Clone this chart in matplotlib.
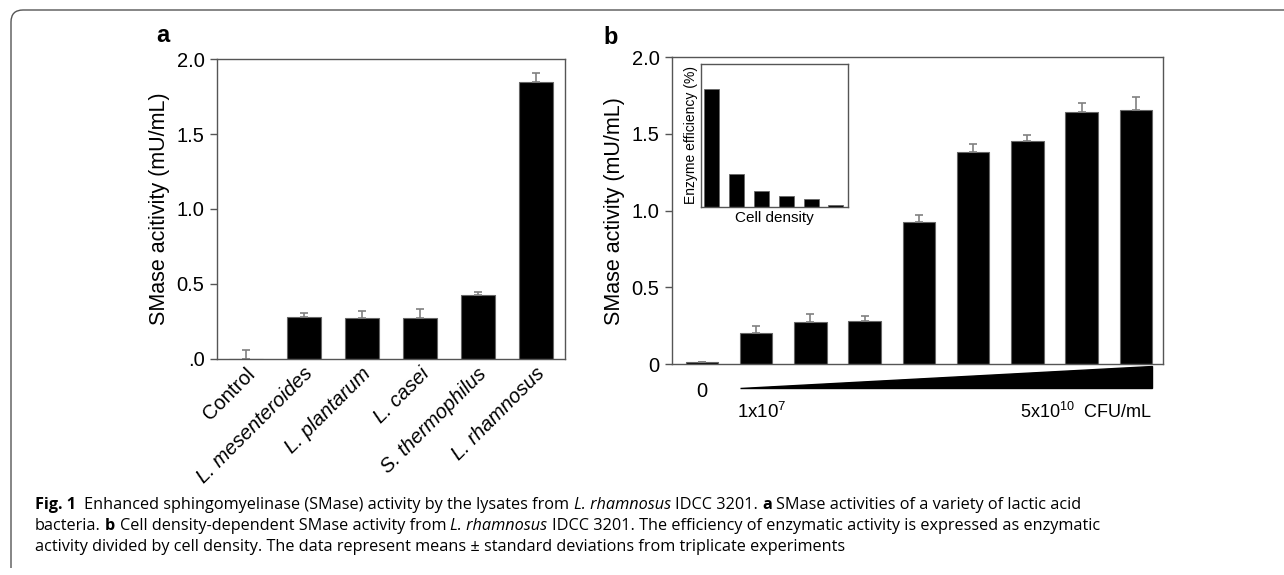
import matplotlib
matplotlib.use("Agg")
import matplotlib.pyplot as plt
import matplotlib.transforms as mtransforms
from matplotlib.path import Path
from matplotlib.patches import PathPatch

plt.rcParams['font.family'] = ['Liberation Sans', 'DejaVu Sans']
plt.rcParams['mathtext.default'] = 'regular'

# panel a data
strains = ['Control', 'L. mesenteroides', 'L. plantarum', 'L. casei',
           'S. thermophilus', 'L. rhamnosus']
strain_italic = [False, True, True, True, True, True]
smase_a = [0.0, 0.28, 0.27, 0.274, 0.426, 1.848]
err_a = [0.058, 0.027, 0.048, 0.06, 0.022, 0.062]

# panel b data (cell density series)
smase_b = [0.011, 0.20, 0.276, 0.28, 0.926, 1.38, 1.453, 1.642, 1.655]
err_b = [0.002, 0.05, 0.05, 0.033, 0.044, 0.053, 0.043, 0.063, 0.085]

# inset: enzyme efficiency vs cell density (arbitrary %, read from pixels)
efficiency = [82.7, 22.8, 11.2, 7.7, 5.6, 1.0]

yticks = [0, 0.5, 1.0, 1.5, 2.0]
yticklabels_a = ['.0', '0.5', '1.0', '1.5', '2.0']
yticklabels_b = ['0', '0.5', '1.0', '1.5', '2.0']

W, H = 1284, 575
fig = plt.figure(figsize=(W / 100, H / 100), dpi=100)

spine_col = '#555555'
err_col = '#808080'


def style_axes(ax):
    for s in ax.spines.values():
        s.set_color(spine_col)
        s.set_linewidth(1.0)


# ---- panel a ----
axa = fig.add_axes([217 / W, 1 - 358.7 / H, 348 / W, 299.4 / H])
xa = list(range(len(strains)))
axa.bar(xa, smase_a, width=0.6, color='black', edgecolor='#666666', linewidth=0.8,
        yerr=[[0] * len(err_a), err_a], ecolor=err_col, capsize=3,
        error_kw={'elinewidth': 1.2, 'capthick': 1.2})
axa.set_xlim(-0.5, 5.5)
axa.set_ylim(0, 2.0)
axa.set_yticks(yticks)
axa.set_yticklabels(yticklabels_a)
axa.set_xticks(xa)
axa.set_xticklabels([])
axa.tick_params(axis='x', length=0)
axa.tick_params(axis='y', direction='out', length=5, width=1, color=spine_col,
                labelsize=14.5, pad=4)
axa.set_ylabel('SMase acitivity (mU/mL)', fontsize=15.5, labelpad=5)
style_axes(axa)
lab_tr = mtransforms.offset_copy(axa.get_xaxis_transform(), fig=fig, x=6, y=-12, units='dots')
for i, name in enumerate(strains):
    axa.text(i, 0, name, transform=lab_tr, rotation=45, rotation_mode='anchor',
             ha='right', va='center', fontsize=14.5,
             style='italic' if strain_italic[i] else 'normal')
fig.text(163 / W, 1 - 35 / H, 'a', fontsize=17, weight='bold', ha='center', va='center')

# ---- panel b ----
axb = fig.add_axes([672 / W, 1 - 364 / H, 491 / W, 306.7 / H])
xb = list(range(len(smase_b)))
axb.bar(xb, smase_b, width=0.6, color='black', edgecolor='#666666', linewidth=0.8,
        yerr=[[0] * len(err_b), err_b], ecolor=err_col, capsize=3,
        error_kw={'elinewidth': 1.2, 'capthick': 1.2})
axb.set_xlim(-0.55, 8.5)
axb.set_ylim(0, 2.0)
axb.set_yticks(yticks)
axb.set_yticklabels(yticklabels_b)
axb.set_xticks([])
axb.tick_params(axis='y', direction='out', length=5, width=1, color=spine_col,
                labelsize=14.5, pad=4)
axb.set_ylabel('SMase activity (mU/mL)', fontsize=15.5, labelpad=5)
style_axes(axb)

# cell density wedge below the axis
btr = mtransforms.blended_transform_factory(axb.transData, axb.transAxes)
axb.fill([0.7, 8.3, 8.3], [-0.078, -0.078, -0.0065], color='black',
         transform=btr, clip_on=False)
axb.text(0, -0.09, '0', transform=btr, ha='center', va='center', fontsize=14.5)
axb.text(0.64, -0.155, r'1x10$^7$', transform=btr, ha='left', va='center', fontsize=13.5)
axb.text(8.3, -0.155, r'5x10$^{10}$  CFU/mL', transform=btr, ha='right', va='center',
         fontsize=13)
fig.text(611 / W, 1 - 37 / H, 'b', fontsize=17, weight='bold', ha='center', va='center')

# inset
axi = fig.add_axes([700.7 / W, 1 - 206.7 / H, 147.6 / W, 142.4 / H])
axi.bar(range(len(efficiency)), efficiency, width=0.6, color='black',
        edgecolor='#666666', linewidth=0.6)
axi.set_xlim(-0.45, 5.5)
axi.set_ylim(0, 100)
axi.set_xticks([])
axi.set_yticks([])
axi.set_ylabel('Enzyme efficiency (%)', fontsize=10, labelpad=2)
axi.set_xlabel('Cell density', fontsize=11, labelpad=3)
style_axes(axi)

# ---- frame ----
frame = Path([(11, 568), (11, 22), (11, 10), (23, 10), (W + 5, 10)],
             [Path.MOVETO, Path.LINETO, Path.CURVE3, Path.CURVE3, Path.LINETO])
frame = Path([(x / W, 1 - y / H) for x, y in frame.vertices], frame.codes)
fig.patches.append(PathPatch(frame, transform=fig.transFigure, fill=False,
                             edgecolor='#555555', linewidth=1.0))

# ---- caption ----
cap_family = ['Open Sans', 'DejaVu Sans']
renderer = fig.canvas.get_renderer()

caption = [
    [('Fig. 1', 'b'), ('  Enhanced sphingomyelinase (SMase) activity by the lysates from ', 'n'),
     ('L. rhamnosus', 'i'), (' IDCC 3201. ', 'n'), ('a', 'b'),
     (' SMase activities of a variety of lactic acid', 'n')],
    [('bacteria. ', 'n'), ('b', 'b'), (' Cell density-dependent SMase activity from ', 'n'),
     ('L. rhamnosus', 'i'),
     (' IDCC 3201. The efficiency of enzymatic activity is expressed as enzymatic', 'n')],
    [('activity divided by cell density. The data represent means \u00b1 standard deviations '
      'from triplicate experiments', 'n')],
]


def run_kw(kind):
    if kind == 'b':
        return {'weight': 'bold'}
    if kind == 'i':
        return {'style': 'italic'}
    return {}


def draw_runs(x, y, runs, size, draw=True):
    def width(s, kind):
        t = fig.text(0, 0, s, fontsize=size, family=cap_family, **run_kw(kind))
        w = t.get_window_extent(renderer).width
        t.remove()
        return w
    space_w = width('a a', 'n') - width('aa', 'n')
    x0 = x
    for s, kind in runs:
        lead = len(s) - len(s.lstrip(' '))
        trail = len(s) - len(s.rstrip(' '))
        x += lead * space_w
        core = s.strip(' ')
        if draw:
            t = fig.text(x / W, 1 - y / H, core, fontsize=size, family=cap_family,
                         ha='left', va='center', **run_kw(kind))
            w = t.get_window_extent(renderer).width
        else:
            w = width(core, kind)
        x += w + trail * space_w
    return x - x0


# fit line 1 of the caption to the width it has in the figure
probe = draw_runs(35, 0, caption[0], 10, draw=False)
cap_size = 10 * 1045 / probe
for k, line in enumerate(caption):
    draw_runs(35, 505 + k * 21, line, cap_size)

fig.savefig('out.png', dpi=100)
